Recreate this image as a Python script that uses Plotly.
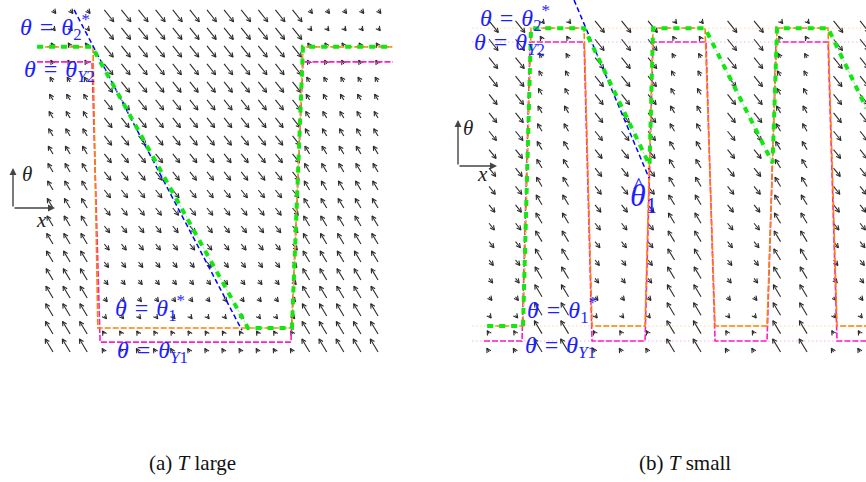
import math
import plotly.graph_objects as go

W, H = 866, 482

# ---------------- panel (a): T large ----------------
A_COLS = [k / 19 for k in range(20)]          # quiver grid (normalised time)
A_ROWS = [k / 19 for k in range(20)]          # quiver grid (normalised theta)
A_THETA_2S, A_THETA_Y2 = 0.892, 0.848
A_THETA_1S, A_THETA_Y1 = 0.070, 0.029
A_EQ_UP = 0.918                               # rest level of the rising mode
A_OFF = (0.131, 0.752)                        # falling-mode time interval

A_OR_X = [-0.049, 0.123, 0.138, 0.735, 0.769, 1.046]
A_OR_T = [A_THETA_2S, A_THETA_2S, A_THETA_1S, A_THETA_1S, A_THETA_2S, A_THETA_2S]
A_MG_X = [-0.049, 0.120, 0.145, 0.732, 0.769, 1.046]
A_MG_T = [A_THETA_Y2, A_THETA_Y2, A_THETA_Y1, A_THETA_Y1, A_THETA_Y2, A_THETA_Y2]
A_GR_X = [-0.049, 0.120, 0.600, 0.735, 0.769, 1.046]
A_GR_T = [A_THETA_2S, A_THETA_2S, A_THETA_1S, A_THETA_1S, A_THETA_2S, A_THETA_2S]
A_BL_X = [0.065, 0.581]
A_BL_T = [1.000, 0.064]

# ---------------- panel (b): T small ----------------
B_COLS = [k / 14 for k in range(15)]
B_ROWS = [k / 18 for k in range(19)]
B_THETA_2S, B_THETA_Y2 = 0.978, 0.936
B_THETA_1S, B_THETA_Y1 = 0.0785, 0.0332
B_EQ_UP = 0.985
B_ON = [(0.1024, 0.2668), (0.4313, 0.5957), (0.7628, 0.9245)]   # rising-mode intervals

B_OR_X = [-0.005, 0.0916, 0.1132, 0.2561, 0.2776, 0.4205, 0.4420, 0.5822,
          0.6092, 0.7493, 0.7763, 0.9137, 0.9380, 1.0167]
B_OR_T = [B_THETA_1S, B_THETA_1S, B_THETA_2S, B_THETA_2S] * 3 + [B_THETA_1S, B_THETA_1S]
B_MG_X = [-0.0135, 0.0889, 0.1105, 0.2561, 0.2776, 0.4205, 0.4420, 0.5849,
          0.6092, 0.7493, 0.7736, 0.9137, 0.9380, 1.0167]
B_MG_T = [B_THETA_Y1, B_THETA_Y1, B_THETA_Y2, B_THETA_Y2] * 3 + [B_THETA_Y1, B_THETA_Y1]
B_GR_X = [-0.005, 0.0916, 0.1132, 0.2561, 0.4326, 0.4420, 0.5822, 0.7642, 0.7763, 0.9137, 1.0167]
B_GR_T = [B_THETA_1S, B_THETA_1S, B_THETA_2S, B_THETA_2S, 0.5646, B_THETA_2S, B_THETA_2S,
          0.5707, B_THETA_2S, B_THETA_2S, 0.7367]
B_BL_X = [0.2291, 0.4313]
B_BL_T = [1.063, 0.5254]
B_GUIDE_X = [-0.045, 1.0167]

# ---------------- axes ----------------
XA_RANGE = [-0.163, 1.169]
YA_RANGE = [-0.380, 1.029]
XB_RANGE = [-0.151, 1.016]
YB_RANGE = [-0.3925, 1.063]
SXA = (W / 2) / (XA_RANGE[1] - XA_RANGE[0])
SYA = H / (YA_RANGE[1] - YA_RANGE[0])
SXB = (W / 2) / (XB_RANGE[1] - XB_RANGE[0])
SYB = H / (YB_RANGE[1] - YB_RANGE[0])

ORANGE = "#ff8000"
MAGENTA = "#ff1cc0"
GREEN = "#10e810"
BLUE = "#0000ff"
LBL = "#1e1eff"
ARROW = "#2b2b2b"
UP_SLANT, DN_SLANT = 0.6, 0.8
SCALE, L_MIN = 0.85, 3.5
HEAD, HEAD_ANG = 4.8, math.radians(28)


def quiver(cols, rows, is_up, eq_up, eq_dn, sx, sy):
    lx, ly = [], []
    for x in cols:
        eq = eq_up if is_up(x) else eq_dn
        for t in rows:
            d = (eq - t) * sy
            L = max(L_MIN, SCALE * math.sqrt(abs(d)))
            if d >= 0:
                vx, vy = -UP_SLANT, 1.0
            else:
                vx, vy = DN_SLANT, -1.0
            n = math.hypot(vx, vy)
            ux, uy = vx / n, vy / n
            x1 = x + ux * L / sx
            t1 = t + uy * L / sy
            barbs = []
            for s in (1, -1):
                c, si = math.cos(s * HEAD_ANG), math.sin(s * HEAD_ANG)
                bx = -(ux * c - uy * si) * HEAD
                by = -(ux * si + uy * c) * HEAD
                barbs.append((x1 + bx / sx, t1 + by / sy))
            lx += [x, x1, None, barbs[0][0], x1, barbs[1][0], None]
            ly += [t, t1, None, barbs[0][1], t1, barbs[1][1], None]
    return lx, ly


fig = go.Figure()


def add_quiver(q, xa, ya):
    lx, ly = q
    fig.add_trace(go.Scatter(x=lx, y=ly, mode="lines", xaxis=xa, yaxis=ya,
                             line=dict(color=ARROW, width=1.1, simplify=False),
                             hoverinfo="skip"))


def add_line(x, y, xa, ya, color, width, dash):
    fig.add_trace(go.Scatter(x=x, y=y, mode="lines", xaxis=xa, yaxis=ya,
                             line=dict(color=color, width=width, dash=dash), hoverinfo="skip"))


# panel (a)
add_quiver(quiver(A_COLS, A_ROWS, lambda x: not (A_OFF[0] < x < A_OFF[1]),
                  A_EQ_UP, A_THETA_1S, SXA, SYA), "x", "y")
add_line(A_MG_X, A_MG_T, "x", "y", MAGENTA, 1.6, "6px,2px")
add_line(A_OR_X, A_OR_T, "x", "y", ORANGE, 1.6, "6px,2px")
add_line(A_BL_X, A_BL_T, "x", "y", BLUE, 1.5, "5px,3px")
add_line(A_GR_X, A_GR_T, "x", "y", "#8af58a", 1, "2px,2px")
add_line(A_GR_X, A_GR_T, "x", "y", GREEN, 4, "6px,6px")

# panel (b)
add_line(B_GUIDE_X, [B_THETA_2S] * 2, "x2", "y2", "#ffc27a", 1, "1px,3px")
add_line(B_GUIDE_X, [B_THETA_Y2] * 2, "x2", "y2", "#e98ae9", 1, "1px,3px")
add_line(B_GUIDE_X, [B_THETA_1S] * 2, "x2", "y2", "#ffc27a", 1, "1px,3px")
add_line(B_GUIDE_X, [B_THETA_Y1] * 2, "x2", "y2", "#e98ae9", 1, "1px,3px")
add_quiver(quiver(B_COLS, B_ROWS, lambda x: any(a < x < b for a, b in B_ON),
                  B_EQ_UP, B_THETA_1S, SXB, SYB), "x2", "y2")
add_line(B_MG_X, B_MG_T, "x2", "y2", MAGENTA, 1.6, "6px,2px")
add_line(B_OR_X, B_OR_T, "x2", "y2", ORANGE, 1.6, "6px,2px")
add_line(B_BL_X, B_BL_T, "x2", "y2", BLUE, 1.5, "5px,3px")
add_line(B_GR_X, B_GR_T, "x2", "y2", "#8af58a", 1, "2px,2px")
add_line(B_GR_X, B_GR_T, "x2", "y2", GREEN, 4, "6px,6px")

SP = " \u200a"
LF = dict(family="Liberation Serif", size=24, color=LBL)
labels = [
    ("x", "y", -0.108, 0.950, f"<i>θ</i>{SP}={SP}<i>θ</i><sub>2</sub><sup>*</sup>"),
    ("x", "y", -0.095, 0.822, f"<i>θ</i>{SP}={SP}<i>θ</i><sub><i>Y</i>2</sub>"),
    ("x", "y", 0.185, 0.129, f"<i>θ</i>{SP}={SP}<i>θ</i><sub>1</sub><sup>*</sup>"),
    ("x", "y", 0.191, 0.000, f"<i>θ</i>{SP}={SP}<i>θ</i><sub><i>Y</i>1</sub>"),
    ("x2", "y2", -0.030, 1.010, f"<i>θ</i>{SP}={SP}<i>θ</i><sub>2</sub><sup>*</sup>"),
    ("x2", "y2", -0.046, 0.930, f"<i>θ</i>{SP}={SP}<i>θ</i><sub><i>Y</i>2</sub>"),
    ("x2", "y2", 0.097, 0.127, f"<i>θ</i>{SP}={SP}<i>θ</i><sub>1</sub><sup>*</sup>"),
    ("x2", "y2", 0.0916, 0.015, f"<i>θ</i>{SP}={SP}<i>θ</i><sub><i>Y</i>1</sub>"),
]
ann = []
for xr, yr, x, y, t in labels:
    ann.append(dict(x=x, y=y, xref=xr, yref=yr, text=t, showarrow=False,
                    xanchor="left", yanchor="middle", font=LF))
ann.append(dict(x=0.3747, y=0.468, xref="x2", yref="y2", text="<i>θ</i><sub>1</sub>",
                showarrow=False, xanchor="left", yanchor="middle",
                font=dict(family="Liberation Serif", size=32, color=LBL)))
ann.append(dict(x=0.3747 + 10 / SXB, y=0.468 + 12 / SYB, xref="x2", yref="y2", text="^",
                showarrow=False, xanchor="center", yanchor="middle",
                font=dict(family="Liberation Serif", size=24, color=LBL)))


def P(px, py):
    return px / W, 1 - py / H


# little coordinate frames
for (hx, hy), (tx, ty) in [((13, 168), (13, 208)), ((55, 208), (13, 208)),
                           ((458, 120), (458, 166)), ((497, 166), (458, 166))]:
    x, y = P(hx, hy)
    ann.append(dict(x=x, y=y, xref="paper", yref="paper", text="", showarrow=True,
                    ax=tx - hx, ay=ty - hy, axref="pixel", ayref="pixel",
                    arrowhead=2, arrowsize=1, arrowwidth=1.4, arrowcolor="#444"))
BF = dict(family="Liberation Serif", size=21, color="#222")
for (px, py), t in [((27, 174), "<i>θ</i>"), ((41, 220), "<i>x</i>"),
                    ((468, 128), "<i>θ</i>"), ((482, 174), "<i>x</i>")]:
    x, y = P(px, py)
    ann.append(dict(x=x, y=y, xref="paper", yref="paper", text=t, showarrow=False,
                    xanchor="center", yanchor="middle", font=BF))

CF = dict(family="Liberation Serif", size=21, color="#111")
for (px, py), t in [((192, 463), "(a) <i>T</i> large"), ((685, 463), "(b) <i>T</i> small")]:
    x, y = P(px, py)
    ann.append(dict(x=x, y=y, xref="paper", yref="paper", text=t, showarrow=False,
                    xanchor="center", yanchor="middle", font=CF))

fig.update_layout(
    width=W, height=H, margin=dict(l=0, r=0, t=0, b=0),
    paper_bgcolor="white", plot_bgcolor="white", showlegend=False,
    xaxis=dict(domain=[0, 0.5], range=XA_RANGE, visible=False),
    yaxis=dict(domain=[0, 1], range=YA_RANGE, visible=False),
    xaxis2=dict(domain=[0.5, 1], range=XB_RANGE, visible=False),
    yaxis2=dict(domain=[0, 1], range=YB_RANGE, visible=False, anchor="x2"),
    annotations=ann,
)
fig.write_html("out.html", config={"displayModeBar": False},
               post_script="document.body.style.margin='0px';"
                           "document.body.style.overflow='hidden';")
